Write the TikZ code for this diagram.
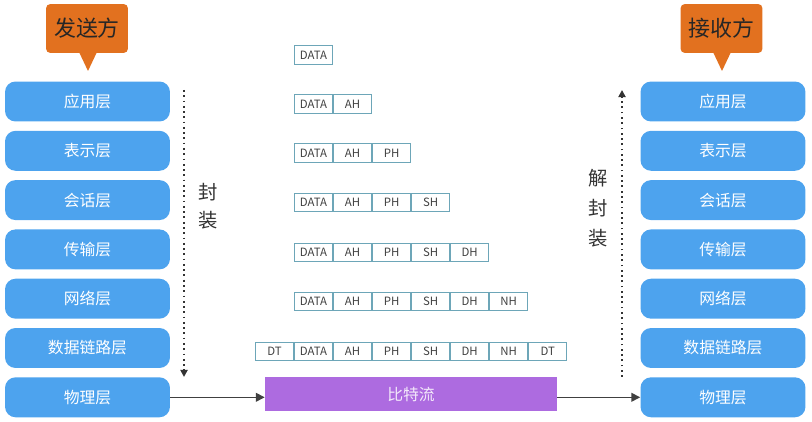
\documentclass[tikz,border=0pt]{standalone}
\usepackage{fontspec}
\newfontfamily\cjk{Noto Sans CJK SC}
\usetikzlibrary{arrows.meta,positioning}

\definecolor{layerblue}{HTML}{4DA3EE}
\definecolor{tagorange}{HTML}{E2711F}
\definecolor{bitpurple}{HTML}{AD6BE0}
\definecolor{cellline}{HTML}{6DA6B8}

\begin{document}
\begin{tikzpicture}[
  x=0.02cm, y=-0.02cm,
  font=\cjk,
  layer/.style={fill=layerblue, text=white, rounded corners=6pt, minimum width=3.3cm, minimum height=0.8cm, inner sep=0pt, font=\cjk\fontsize{9}{10}\selectfont},
  tag/.style={fill=tagorange, text=black!85, rounded corners=2.5pt, minimum width=1.64cm, minimum height=0.98cm, inner sep=0pt, font=\cjk\fontsize{12.5}{14}\selectfont},
  cell/.style={draw=cellline, line width=0.6pt, minimum width=0.76cm, minimum height=0.37cm, inner sep=0pt, text=black!75, font=\cjk\fontsize{6.5}{7}\selectfont},
  bitbox/.style={fill=bitpurple, text=white!85!bitpurple, minimum width=5.84cm, minimum height=0.7cm, inner sep=0pt, font=\cjk\fontsize{9}{10}\selectfont},
  wrap/.style={dotted, line width=1pt, draw=black!80, -{Triangle[length=4pt,width=4pt]}},
  feed/.style={-{Triangle[length=5pt,width=5pt]}, line width=0.8pt, draw=black!75},
  side/.style={text=black!80, align=center, inner sep=0pt}
]
\useasboundingbox (0,0) rectangle (812,422);

\def\xs{87.5}
\def\xr{723}
\def\xd{313.5}

% Sender and receiver tags.
\node[tag] (sender) at (87,28.5) {发送方};
\fill[tagorange] (79,52) -- (88,71) -- (97,52) -- cycle;
\node[tag] (receiver) at (721.5,28.5) {接收方};
\fill[tagorange] (713,52) -- (722,71) -- (731,52) -- cycle;

% Sender layers.
\node[layer] (sApp) at (\xs,101.5) {应用层};
\node[layer] (sPres) at (\xs,150.8) {表示层};
\node[layer] (sSess) at (\xs,200.1) {会话层};
\node[layer] (sTrans) at (\xs,249.4) {传输层};
\node[layer] (sNet) at (\xs,298.7) {网络层};
\node[layer] (sLink) at (\xs,348) {数据链路层};
\node[layer] (sPhys) at (\xs,397.3) {物理层};

% Receiver layers.
\node[layer] (rApp) at (\xr,101.5) {应用层};
\node[layer] (rPres) at (\xr,150.8) {表示层};
\node[layer] (rSess) at (\xr,200.1) {会话层};
\node[layer] (rTrans) at (\xr,249.4) {传输层};
\node[layer] (rNet) at (\xr,298.7) {网络层};
\node[layer] (rLink) at (\xr,348) {数据链路层};
\node[layer] (rPhys) at (\xr,397.3) {物理层};

% Encapsulation and decapsulation.
\coordinate (encTop) at (184,90);
\coordinate (encBot) at (184,377);
\draw[wrap] (encTop) -- (encBot);
\node[side, font=\cjk\fontsize{11}{16}\selectfont] (encLabel) at (208,206) {封\\装};

\coordinate (decBot) at (622,377);
\coordinate (decTop) at (622,90);
\draw[wrap] (decBot) -- (decTop);
\node[side, font=\cjk\fontsize{11}{17}\selectfont] (decLabel) at (598,208) {解\\封\\装};

% Header rows.
\node[cell] (r1data) at (\xd,55) {DATA};

\node[cell] (r2data) at (\xd,104) {DATA};
\node[cell, right=0pt of r2data] (r2ah) {AH};

\node[cell] (r3data) at (\xd,153) {DATA};
\node[cell, right=0pt of r3data] (r3ah) {AH};
\node[cell, right=0pt of r3ah] (r3ph) {PH};

\node[cell] (r4data) at (\xd,202.5) {DATA};
\node[cell, right=0pt of r4data] (r4ah) {AH};
\node[cell, right=0pt of r4ah] (r4ph) {PH};
\node[cell, right=0pt of r4ph] (r4sh) {SH};

\node[cell] (r5data) at (\xd,252.5) {DATA};
\node[cell, right=0pt of r5data] (r5ah) {AH};
\node[cell, right=0pt of r5ah] (r5ph) {PH};
\node[cell, right=0pt of r5ph] (r5sh) {SH};
\node[cell, right=0pt of r5sh] (r5dh) {DH};

\node[cell] (r6data) at (\xd,301.5) {DATA};
\node[cell, right=0pt of r6data] (r6ah) {AH};
\node[cell, right=0pt of r6ah] (r6ph) {PH};
\node[cell, right=0pt of r6ph] (r6sh) {SH};
\node[cell, right=0pt of r6sh] (r6dh) {DH};
\node[cell, right=0pt of r6dh] (r6nh) {NH};

\node[cell] (r7data) at (\xd,351.5) {DATA};
\node[cell, left=0pt of r7data] (r7dtl) {DT};
\node[cell, right=0pt of r7data] (r7ah) {AH};
\node[cell, right=0pt of r7ah] (r7ph) {PH};
\node[cell, right=0pt of r7ph] (r7sh) {SH};
\node[cell, right=0pt of r7sh] (r7dh) {DH};
\node[cell, right=0pt of r7dh] (r7nh) {NH};
\node[cell, right=0pt of r7nh] (r7dtr) {DT};

% Bit stream.
\node[bitbox] (bits) at (411,394) {比特流};
\draw[feed] (sPhys.east) -- (sPhys.east -| bits.west);
\draw[feed] (bits.east |- rPhys.west) -- (rPhys.west);

\end{tikzpicture}
\end{document}
